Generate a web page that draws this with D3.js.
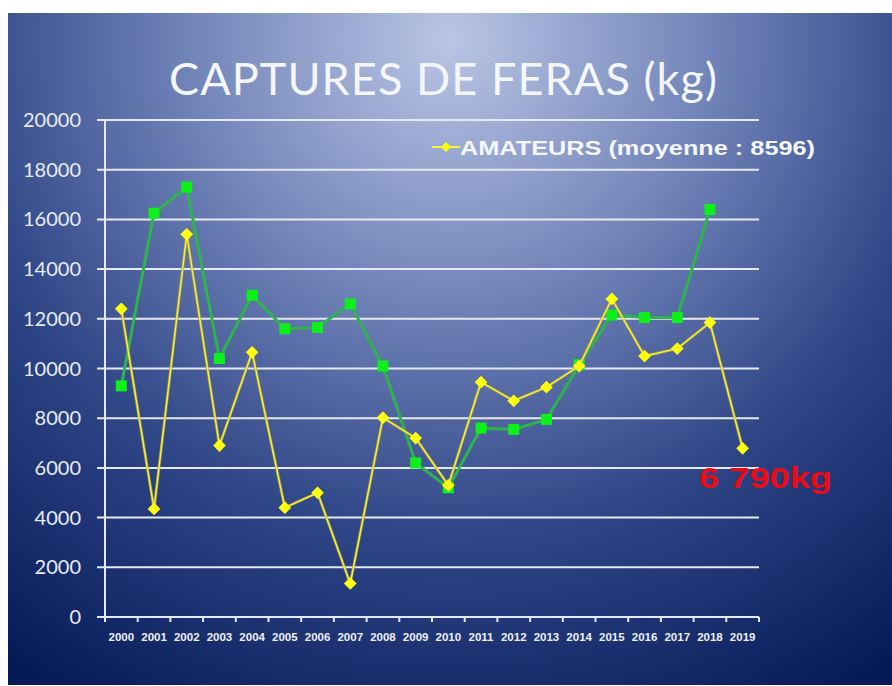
<!DOCTYPE html>
<html>
<head>
<meta charset="UTF-8">
<title>Captures de feras</title>
<style>
  body { margin: 0; background: #fff; }
  svg { display: block; }
</style>
</head>
<body>
<svg></svg>
<script src="https://d3js.org/d3.v7.min.js"></script>
<script>
const years = ["2000","2001","2002","2003","2004","2005","2006","2007","2008","2009",
               "2010","2011","2012","2013","2014","2015","2016","2017","2018","2019"];
// amateurs (yellow)
const amateurs = [12400, 4350, 15400, 6900, 10650, 4400, 5000, 1350, 8020, 7200,
                  5300, 9450, 8700, 9250, 10100, 12800, 10500, 10800, 11850, 6790];
// second series (green), no 2019 value
const green = [9300, 16250, 17300, 10400, 12950, 11600, 11650, 12600, 10100, 6200,
               5200, 7600, 7550, 7950, 10150, 12150, 12050, 12050, 16400, null];
const yTicks = [0, 2000, 4000, 6000, 8000, 10000, 12000, 14000, 16000, 18000, 20000];

const width = 892, height = 686;
const svg = d3.select("svg").attr("width", width).attr("height", height);

// background slide gradient
const defs = svg.append("defs");
const grad = defs.append("radialGradient").attr("id", "bg")
  .attr("gradientUnits", "userSpaceOnUse")
  .attr("cx", 450).attr("cy", 40).attr("r", 760);
grad.append("stop").attr("offset", "0%").attr("stop-color", "#b9c5e4");
grad.append("stop").attr("offset", "35%").attr("stop-color", "#7083b8");
grad.append("stop").attr("offset", "65%").attr("stop-color", "#2f4687");
grad.append("stop").attr("offset", "100%").attr("stop-color", "#061a58");

svg.append("rect").attr("x", 8).attr("y", 13).attr("width", width - 8).attr("height", height - 14)
  .attr("fill", "url(#bg)");

const margin = {left: 105, right: 759, top: 120, bottom: 617};
const x = d3.scaleBand().domain(years).range([margin.left, margin.right]);
const y = d3.scaleLinear().domain([0, 20000]).range([margin.bottom, margin.top]);

// title
svg.append("text").attr("x", 443).attr("y", 95)
  .attr("text-anchor", "middle")
  .attr("font-family", "Lato, 'Open Sans', sans-serif")
  .attr("font-size", 45)
  .attr("fill", "#f4f6fb")
  .attr("textLength", 548)
  .text("CAPTURES DE FERAS (kg)");

// grid lines
svg.append("g").selectAll("line").data(yTicks).enter().append("line")
  .attr("x1", 97).attr("x2", margin.right)
  .attr("y1", d => y(d)).attr("y2", d => y(d))
  .attr("stroke", "#e6e9f2").attr("stroke-width", 2);

// y axis line
svg.append("line").attr("x1", margin.left).attr("x2", margin.left)
  .attr("y1", margin.top).attr("y2", margin.bottom)
  .attr("stroke", "#e6e9f2").attr("stroke-width", 2);

// y labels
svg.append("g").selectAll("text").data(yTicks).enter().append("text")
  .attr("x", 81).attr("y", d => y(d) + 7)
  .attr("text-anchor", "end")
  .attr("font-family", "Lato, sans-serif").attr("font-size", 20)
  .attr("fill", "#e8ecf6")
  .text(d => d);

// x ticks at band boundaries
const bounds = years.map(d => x(d)).concat([margin.right]);
svg.append("g").selectAll("line").data(bounds).enter().append("line")
  .attr("x1", d => d).attr("x2", d => d)
  .attr("y1", margin.bottom).attr("y2", margin.bottom + 5)
  .attr("stroke", "#e6e9f2").attr("stroke-width", 2);

svg.append("g").selectAll("text").data(years).enter().append("text")
  .attr("x", d => x(d) + x.bandwidth() / 2).attr("y", 641)
  .attr("text-anchor", "middle")
  .attr("font-family", "'Liberation Sans', sans-serif").attr("font-size", 11.5)
  .attr("font-weight", "bold")
  .attr("fill", "#eef0f7")
  .text(d => d);

const cx = d => x(d) + x.bandwidth() / 2;

// green series
const greenPts = years.map((yr, i) => ({yr, v: green[i]})).filter(d => d.v !== null);
svg.append("path").datum(greenPts)
  .attr("fill", "none").attr("stroke", "#2fb24f").attr("stroke-width", 3)
  .attr("d", d3.line().x(d => cx(d.yr)).y(d => y(d.v)));
svg.append("g").selectAll("rect").data(greenPts).enter().append("rect")
  .attr("x", d => cx(d.yr) - 5.5).attr("y", d => y(d.v) - 5.5)
  .attr("width", 11).attr("height", 11)
  .attr("fill", "#0ef01a");

// yellow series
const amPts = years.map((yr, i) => ({yr, v: amateurs[i]}));
svg.append("path").datum(amPts)
  .attr("fill", "none").attr("stroke", "#a89c48").attr("stroke-width", 3)
  .attr("stroke-opacity", 0.8)
  .attr("d", d3.line().x(d => cx(d.yr)).y(d => y(d.v)));
svg.append("path").datum(amPts)
  .attr("fill", "none").attr("stroke", "#f6f23a").attr("stroke-width", 1.5)
  .attr("d", d3.line().x(d => cx(d.yr)).y(d => y(d.v)));
svg.append("g").selectAll("rect").data(amPts).enter().append("rect")
  .attr("x", -4.5).attr("y", -4.5).attr("width", 9).attr("height", 9)
  .attr("transform", d => `translate(${cx(d.yr)},${y(d.v)}) rotate(45)`)
  .attr("fill", "#ffff10");

// legend
svg.append("line").attr("x1", 432).attr("x2", 460).attr("y1", 147).attr("y2", 147)
  .attr("stroke", "#f6f23a").attr("stroke-width", 2);
svg.append("rect").attr("x", -3.5).attr("y", -3.5).attr("width", 7).attr("height", 7)
  .attr("transform", "translate(446,147) rotate(45)").attr("fill", "#ffff10");
svg.append("text").attr("x", 460).attr("y", 155)
  .attr("font-family", "'Liberation Sans', Arial, sans-serif")
  .attr("font-size", 21).attr("font-weight", "bold")
  .attr("fill", "#f4f6fb")
  .attr("textLength", 355).attr("lengthAdjust", "spacingAndGlyphs")
  .text("AMATEURS (moyenne : 8596)");

// last value annotation
svg.append("text").attr("x", 699).attr("y", 488)
  .attr("font-family", "'Liberation Sans', Arial, sans-serif")
  .attr("font-size", 29).attr("font-weight", "bold")
  .attr("fill", "#e80c14")
  .attr("textLength", 133).attr("lengthAdjust", "spacingAndGlyphs")
  .text("6 790kg");
</script>
</body>
</html>
